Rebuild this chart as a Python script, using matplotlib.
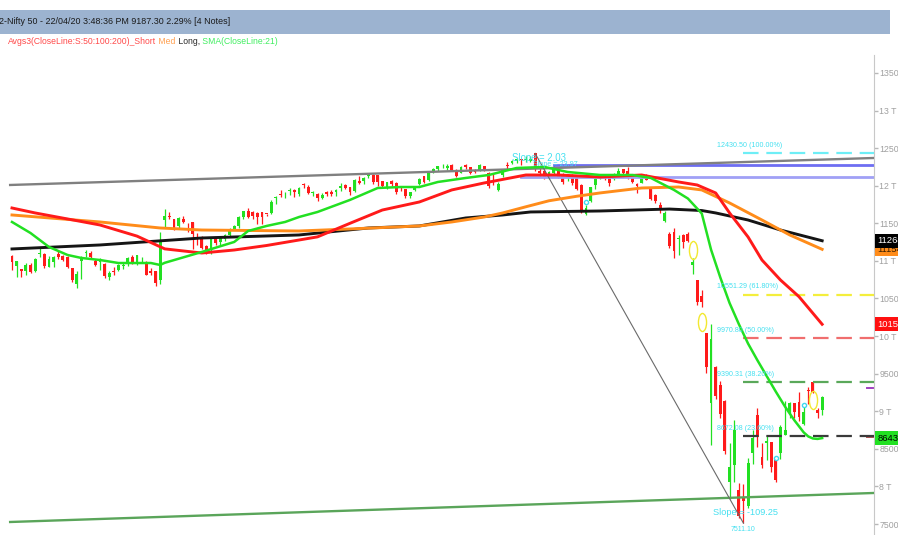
import matplotlib.pyplot as plt
import matplotlib.transforms as mtransforms
from matplotlib.patches import Rectangle
from matplotlib.path import Path

plt.rcParams['font.family'] = ['Liberation Sans Narrow', 'Liberation Sans', 'DejaVu Sans']

# Nifty 50 daily candles, 01 Aug 2019 .. 22 Apr 2020 (one entry per session)
opens = [11060, 10930, 10895, 10864, 10949, 10870, 11087, 11091, 10925, 10990, 11095, 11063, 11051, 10905, 10699, 11000, 11106, 11101, 10997, 10988,
         10960, 10790, 10860, 10883, 10937, 10972, 11058, 10987, 10995, 10988, 10872, 10872, 10746, 11542, 11590, 11564, 11469, 11556, 11475,
         11515, 11322, 11316, 11196, 11139, 11301, 11257, 11296, 11348, 11427, 11466, 11580, 11658, 11657, 11633, 11646, 11628, 11643, 11833, 11883,
         11886, 11928, 11946, 11884, 12013, 11987, 11903, 11894, 11841, 11915, 11911, 11918, 11966, 12005, 11985, 11928, 12067, 12068, 12133, 12146,
         12137, 12059, 11970, 12068, 12035, 11939, 11950, 11867, 11945, 12027, 12131, 12082, 12197, 12223, 12272, 12235, 12270, 12212, 12173, 12275, 12247,
         12202, 12199, 12262, 12170, 12080, 11941, 12148, 12271, 12296, 12333, 12349, 12348, 12329, 12430, 12195, 12196, 12107, 12175, 12198, 12148, 12114, 12148, 12100,
         12011, 11627, 11797, 12005, 12120, 12121, 12102, 12088, 12151, 12219, 12191, 12131, 12028, 12037, 12119, 11979, 11877, 11738, 11536, 11354,
         11388, 11288, 11346, 11359, 10942, 10742, 10531, 10039, 9107, 9588, 9355, 9138, 8063, 8286, 7946, 7849, 7735, 8451, 8949, 8385, 8584,
         8585, 8356, 8446, 8688, 8974, 9112, 9120, 8830, 9287, 9390, 9016, 9012]
highs = [11080, 11000, 10895, 10977, 10976, 11042, 11181, 11100, 11061, 11069, 11138, 11076, 11064, 10908, 10862, 11070, 11142, 11129, 11022, 11042,
         10967, 10860, 10920, 10958, 10987, 11054, 11081, 11084, 11053, 10996, 10908, 10872, 11382, 11695, 11655, 11564, 11586, 11593, 11507,
         11516, 11370, 11337, 11214, 11323, 11306, 11335, 11357, 11443, 11473, 11600, 11670, 11700, 11658, 11644, 11646, 11630, 11809, 11861, 11945,
         11918, 11973, 11958, 11980, 12034, 12011, 11935, 11906, 11898, 11927, 11946, 11958, 12038, 12019, 11986, 12084, 12132, 12114, 12159, 12150,
         12137, 12068, 12055, 12081, 12046, 11981, 11953, 11923, 12001, 12099, 12134, 12181, 12237, 12268, 12294, 12287, 12283, 12221, 12258, 12286, 12248,
         12222, 12289, 12265, 12180, 12152, 12045, 12224, 12311, 12338, 12375, 12350, 12390, 12389, 12431, 12230, 12225, 12190, 12273, 12216, 12163, 12143, 12150, 12104,
         12018, 11749, 11986, 12098, 12160, 12154, 12103, 12172, 12231, 12225, 12247, 12160, 12031, 12134, 12153, 11979, 11884, 11784, 11663, 11384,
         11433, 11342, 11356, 11387, 11036, 10751, 10616, 10040, 10159, 9602, 9403, 9144, 8575, 8883, 8047, 8037, 8376, 8749, 9038, 8576, 8678,
         8588, 8356, 8819, 9131, 9128, 9113, 9261, 9053, 9324, 9390, 9044, 9209]
lows = [10882, 10783, 10782, 10813, 10835, 10857, 11057, 10902, 10925, 10924, 11020, 10993, 10908, 10719, 10637, 10756, 11050, 11029, 10934, 10874,
        10773, 10746, 10816, 10872, 10890, 10935, 10964, 10945, 10981, 10811, 10818, 10671, 10691, 11439, 11553, 11410, 11427, 11499, 11390,
        11158, 11210, 11158, 11091, 11090, 11208, 11214, 11264, 11321, 11405, 11432, 11560, 11572, 11563, 11495, 11490, 11598, 11630, 11752, 11856,
        11843, 11878, 11844, 11864, 11974, 11888, 11867, 11802, 11822, 11862, 11862, 11869, 11927, 11954, 11876, 11918, 12022, 12019, 12109, 12024,
        11996, 11968, 11954, 11998, 11888, 11924, 11832, 11832, 11931, 12006, 12038, 12069, 12163, 12191, 12237, 12213, 12202, 12118, 12165, 12226, 12152,
        12165, 12195, 12191, 11975, 12006, 11930, 12120, 12213, 12285, 12308, 12278, 12315, 12315, 12201, 12114, 12087, 12087, 12162, 12107, 12024, 12066, 12011, 11944,
        11633, 11614, 11783, 11953, 12084, 12073, 11990, 12070, 12144, 12139, 12092, 12037, 11908, 12037, 12071, 11809, 11776, 11640, 11516, 11176,
        11036, 11082, 11171, 11246, 10827, 10417, 10382, 9508, 8556, 9159, 8916, 8438, 7833, 8056, 7583, 7511, 7715, 8304, 8522, 8244, 8356,
        8198, 8056, 8360, 8680, 8905, 8915, 8874, 8821, 9091, 9240, 8909, 8946]
closes = [10980, 10997, 10863, 10948, 10855, 11032, 11110, 10926, 11029, 11048, 11053, 11017, 10918, 10741, 10829, 11058, 11106, 11046, 10948, 11023,
          10797, 10844, 10848, 10946, 10946, 11035, 10982, 11076, 11003, 10817, 10841, 10704, 11274, 11600, 11588, 11440, 11571, 11512, 11474,
          11359, 11314, 11174, 11126, 11313, 11234, 11305, 11341, 11428, 11464, 11586, 11662, 11588, 11604, 11582, 11583, 11627, 11786, 11844, 11877,
          11890, 11941, 11917, 11966, 12012, 11908, 11913, 11840, 11872, 11895, 11884, 11940, 11999, 11968, 11914, 12073, 12038, 12101, 12151, 12056,
          12048, 11994, 12043, 12018, 11922, 11937, 11857, 11910, 11971, 12087, 12054, 12165, 12221, 12260, 12272, 12262, 12214, 12126, 12246, 12255, 12168,
          12182, 12282, 12227, 11993, 12053, 12025, 12216, 12257, 12330, 12362, 12343, 12355, 12352, 12224, 12170, 12107, 12180, 12248, 12119, 12055, 12129, 12035, 11962,
          11662, 11708, 11979, 12089, 12137, 12098, 12031, 12108, 12201, 12174, 12113, 12046, 11993, 12126, 12081, 11829, 11798, 11678, 11633, 11202,
          11132, 11303, 11251, 11270, 10989, 10451, 10458, 9590, 9955, 9197, 8967, 8469, 8263, 8745, 7610, 7801, 8318, 8641, 8660, 8281, 8598,
          8254, 8084, 8792, 8748, 9112, 8994, 8925, 8992, 9267, 9262, 8982, 9187]

# moving averages (session index, value)
sma200_idx = [0, 19, 41, 62, 77, 88, 98, 106, 112, 127, 142, 149, 152, 159, 166, 175]
sma200_val = [11159, 11212, 11305, 11345, 11438, 11465, 11571, 11611, 11651, 11664, 11690, 11670, 11638, 11544, 11411, 11268]
sma100_idx = [0, 19, 32, 41, 62, 73, 88, 95, 102, 106, 111, 116, 122, 127, 136, 144, 149, 155, 162, 168, 175]
sma100_val = [11611, 11518, 11438, 11411, 11398, 11425, 11465, 11518, 11584, 11638, 11720, 11800, 11860, 11904, 11970, 11983, 11944, 11771, 11544,
              11345, 11154]
sma50_idx = [0, 5, 19, 27, 33, 41, 48, 55, 62, 66, 73, 80, 88, 95, 102, 111, 118, 127, 136, 144, 148, 152, 155, 159, 162, 166, 170, 175]
sma50_val = [11704, 11638, 11478, 11330, 11160, 11105, 11145, 11205, 11278, 11320, 11500, 11677, 11784, 11944, 12037, 12143, 12143, 12116, 12143,
             12050, 12010, 11904, 11638, 11318, 11012, 10746, 10524, 10157]
sma21_idx = [0, 4, 8, 12, 15, 19, 23, 26, 30, 32, 33, 41, 48, 51, 55, 59, 62, 66, 73, 79, 84, 88, 92, 98, 103, 109, 115, 120, 127, 134, 138,
             143, 146, 149, 151, 153, 155, 157, 159, 161, 163, 165, 167, 169, 171, 172, 173, 174, 175]
sma21_val = [11518, 11371, 11185, 11079, 11039, 11012, 10972, 10972, 10972, 10946, 10975, 11119, 11252, 11398, 11465, 11518, 11584, 11651, 11811,
             11970, 11983, 11983, 12050, 12103, 12143, 12236, 12250, 12183, 12143, 12143, 12103, 11944, 11830, 11630, 11150, 10780, 10440, 10160,
             9900, 9680, 9470, 9260, 9060, 8880, 8720, 8665, 8638, 8632, 8643]

# drawn tools
trend_x = [-0.4, 186.2]
trend_y = [12010, 12369]
support_x = [-0.4, 186.2]
support_y = [7527, 7913]
slope_x = [113, 158]
slope_y = [12430.5, 7511.1]
blue_hi_x = [117, 186.2]
blue_hi_y = [12270, 12270]
blue_lo_x = [110, 186.2]
blue_lo_y = [12116, 12116]

fib_levels = [12430.50, 10551.29, 9970.80, 9390.31, 8672.08]
fib_labels = ['12430.50 (100.00%)', '10551.29 (61.80%)', '9970.80 (50.00%)', '9390.31 (38.20%)', '8672.08 (23.60%)']
fib_colors = ['#6eeef6', '#f4ee3c', '#f06e6e', '#5aa85a', '#3a3a3a']

note_idx = [147, 149, 173]
note_val = [11150, 10190, 9150]
dot_idx = [124, 165, 171]
dot_val = [11784, 8378, 9083]

y_ticks = [7500, 8000, 8500, 9000, 9500, 10000, 10500, 11000, 11500, 12000, 12500, 13000, 13500]
y_labels = ['7500', '8 T', '8500', '9 T', '9500', '10 T', '10500', '11 T', '11500', '12 T', '12500', '13 T', '13500']

last_vals = [11154, 11268, 10157, 8643]
last_texts = ['11154', '11268', '10157', '8643.1']
last_bg = ['#ff8c1a', '#000000', '#ff1010', '#22e022']
last_fg = ['#3a2000', 'white', 'white', 'black']

CYAN = '#45e0f0'
W, H = 898, 535
fig = plt.figure(figsize=(W / 100, H / 100), dpi=100)
ax = fig.add_axes([0, 0, 874 / W, 480 / H])
ax.set_xlim(-2.59, 186.2)
ax.set_ylim(7354, 13739)

# candles
x = list(range(len(closes)))
cols = ['#22e022' if c >= o else '#ff1a1a' for o, c in zip(opens, closes)]
bottoms = [min(o, c) for o, c in zip(opens, closes)]
heights = [max(abs(c - o), 8) for o, c in zip(opens, closes)]
ax.vlines(x, lows, highs, colors=cols, lw=0.9, zorder=2)
ax.bar(x, heights, 0.62, bottom=bottoms, color=cols, lw=0, zorder=2)

ax.plot(note_idx, note_val, ls='none', marker=Path.unit_circle().transformed(mtransforms.Affine2D().scale(0.45, 1)),
        ms=13, mfc='none', mec='#f2e830', mew=1, zorder=3)
ax.plot(dot_idx, dot_val, ls='none', marker='o', ms=3, mfc='none', mec='#40d8f0', mew=1, zorder=3)

# drawn lines
ax.plot(blue_lo_x, blue_lo_y, color='#a0a0f6', lw=2, zorder=2.5)
ax.plot(blue_hi_x, blue_hi_y, color='#6e6ef2', lw=2, zorder=2.5)
ax.plot(trend_x, trend_y, color='#808080', lw=1.7, zorder=2.6)
ax.plot(support_x, support_y, color='#5aa55a', lw=1.7, zorder=2.6)
ax.plot(slope_x, slope_y, color='#6a6a6a', lw=0.8, zorder=2.6)

# moving averages
ax.plot(sma200_idx, sma200_val, color='#151515', lw=2.1, zorder=3)
ax.plot(sma100_idx, sma100_val, color='#ff8c1a', lw=2.1, zorder=3.1)
ax.plot(sma50_idx, sma50_val, color='#ff1a1a', lw=2.1, zorder=3.2)
ax.plot(sma21_idx, sma21_val, color='#22e022', lw=1.8, zorder=3.3)

# fibonacci levels
for lvl, lab, col in zip(fib_levels, fib_labels, fib_colors):
    ax.plot([158, 186.2], [lvl, lvl], color=col, lw=1.6, ls=(0, (7, 3.5)), zorder=2.7)
    ax.annotate(lab, (152.3, lvl), xytext=(0, 3), textcoords='offset points',
                color=CYAN, fontsize=5.1, va='bottom', ha='left', zorder=4)

ax.text(108, 12370, 'Slope = 2.03', color=CYAN, fontsize=6.9, va='center', zorder=4)
ax.text(112.5, 12280, 'Slope = 23.97', color=CYAN, fontsize=5.2, va='center', zorder=4)
ax.text(151.4, 7650, 'Slope = -109.25', color=CYAN, fontsize=6.6, va='center', zorder=4)
ax.text(158, 7425, '7511.10', color=CYAN, fontsize=5, va='center', ha='center', zorder=4)

# right axis
for s in ['top', 'left', 'bottom']:
    ax.spines[s].set_visible(False)
ax.spines['right'].set_color('#c8c8c8')
ax.set_xticks([])
ax.yaxis.tick_right()
ax.set_yticks(y_ticks)
ax.set_yticklabels(y_labels)
ax.tick_params(axis='y', length=3, width=1, color='#b8b8b8', labelcolor='#a0a0a0', labelsize=6.3, pad=0.8)

tr = mtransforms.blended_transform_factory(ax.transAxes, ax.transData)
for v, t, bg, fg in zip(last_vals, last_texts, last_bg, last_fg):
    ax.text(1.004, v, t, transform=tr, color=fg, fontsize=6.8, va='center', ha='left', clip_on=False, zorder=5,
            bbox=dict(boxstyle='square,pad=0.25', fc=bg, ec='none'))
ax.plot([184.6, 185.9], [9310, 9310], color='#a040c0', lw=1.4, clip_on=False)
ax.plot([184.6, 185.9], [8657, 8657], color='#b05050', lw=1.4, clip_on=False)

# header bar and indicator legend
fig.patches.append(Rectangle((0, 1 - 34 / H), 890 / W, 24 / H, transform=fig.transFigure, fc='#9cb3d0', ec='none'))
fig.text(-1 / W, 1 - 22 / H, '2-Nifty 50 - 22/04/20 3:48:36 PM 9187.30 2.29% [4 Notes]', color='#1a1a1a', fontsize=6.4, va='center')

legend_parts = ['Avgs3(CloseLine:S:50:100:200)_Short', ' Med', ' Long,', ' SMA(CloseLine:21)']
legend_colors = ['#ff4a4a', '#ffa050', '#2a2a2a', '#40ee60']
fig.canvas.draw()
r = fig.canvas.get_renderer()
xpos = 8 / W
for txt, col in zip(legend_parts, legend_colors):
    t = fig.text(xpos, 1 - 42 / H, txt, color=col, fontsize=6.2, va='center')
    xpos = t.get_window_extent(renderer=r).x1 / fig.bbox.width

fig.savefig('out.png', dpi=100)
